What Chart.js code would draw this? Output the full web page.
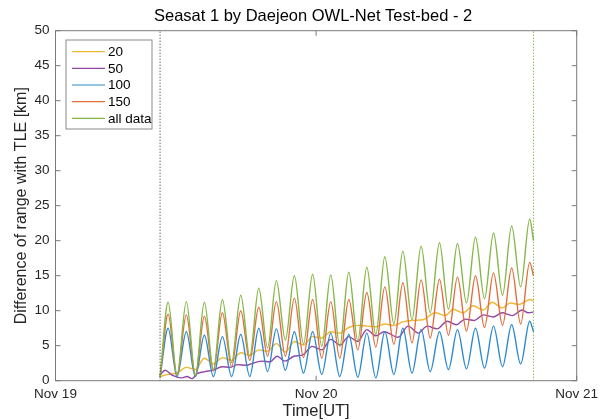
<!DOCTYPE html>
<html><head><meta charset="utf-8">
<script src="https://cdn.jsdelivr.net/npm/chart.js@4/dist/chart.umd.min.js"></script>
<style>html,body{margin:0;padding:0;background:#fff}#wrap{width:614px;height:420px}</style>
</head><body><div id="wrap"><canvas id="c" width="614" height="420"></canvas></div>
<script>
const titleText = 'Seasat 1 by Daejeon OWL-Net Test-bed - 2';
const xTitle = 'Time[UT]';
const yTitle = 'Difference of range with TLE [km]';
const xTickHours = [0, 24, 48];
const xTickLabels = ['Nov 19', 'Nov 20', 'Nov 21'];
const yTickValues = [0, 5, 10, 15, 20, 25, 30, 35, 40, 45, 50];
const seriesLabels = ['20', '50', '100', '150', 'all data'];

// hours since Nov 19 00:00 UT (start, then alternating peaks/troughs, end)
const orbitHours = [9.63, 10.37, 11.19, 12.05, 12.88, 13.71, 14.54, 15.37, 16.22, 17.06, 17.89, 18.72, 19.53, 20.34, 21.17, 22.00, 22.84, 23.68, 24.52, 25.35, 26.18, 27.01, 27.84, 28.67, 29.50, 30.33, 31.16, 31.99, 32.83, 33.67, 34.51, 35.36, 36.19, 37.02, 37.85, 38.68, 39.51, 40.34, 41.17, 42.01, 42.84, 43.67, 44.02];
const allData = [0.5, 11.2, 0.8, 11.3, 0.8, 11.2, 1.6, 11.6, 2.6, 12.2, 3.5, 13.2, 4.7, 14.3, 5.8, 15.0, 5.2, 15.2, 4.9, 15.1, 4.9, 15.5, 5.7, 16.2, 6.6, 17.7, 8.1, 18.5, 8.7, 19.2, 9.7, 19.7, 10.2, 19.6, 11.1, 20.5, 11.7, 21.1, 12.2, 22.1, 13.4, 23.1, 20.0];
const pass150 = [0.5, 9.5, 0.8, 9.4, 0.8, 9.2, 1.4, 9.7, 2.0, 10.0, 2.9, 10.5, 3.5, 11.3, 3.5, 11.8, 3.3, 11.6, 3.2, 11.3, 3.2, 11.6, 4.4, 12.6, 4.8, 13.4, 5.2, 14.0, 5.4, 14.4, 6.1, 14.5, 6.5, 14.8, 7.1, 15.0, 7.6, 15.4, 7.9, 16.1, 8.1, 16.9, 15.0];
const pass100 = [0.5, 7.5, 0.6, 7.0, 0.6, 6.5, 0.6, 6.3, 0.6, 6.6, 0.6, 7.5, 1.3, 7.4, 1.5, 7.0, 1.1, 7.0, 0.9, 6.8, 0.6, 6.6, 0.5, 6.8, 0.4, 7.0, 0.9, 7.5, 1.1, 7.3, 1.3, 7.0, 1.6, 7.3, 1.7, 7.5, 1.8, 7.8, 2.0, 8.0, 2.4, 8.5, 7.0];

const hours20 = [9.63, 10.37, 11.19, 12.05, 12.88, 13.71, 14.54, 15.37, 16.22, 17.06, 17.89, 18.72, 19.53, 20.34, 21.17, 22.00, 22.84, 23.68, 24.52, 25.35, 26.18, 27.01, 27.84, 28.67, 29.50, 30.33, 31.16, 31.99, 32.83, 33.86, 34.96, 35.89, 36.62, 37.54, 38.46, 39.39, 40.22, 41.14, 41.87, 42.70, 43.72, 44.02];
const pass20 = [0.6, 0.9, 1.1, 1.9, 1.6, 3.2, 2.4, 3.3, 2.9, 4.0, 3.6, 4.4, 4.2, 5.3, 4.1, 5.6, 5.1, 6.3, 6.1, 7.0, 6.8, 7.6, 7.9, 7.8, 7.7, 8.1, 7.9, 8.4, 8.6, 8.7, 9.7, 9.3, 10.2, 9.7, 10.7, 10.1, 11.2, 10.4, 11.1, 10.9, 11.6, 11.4];

const hours50 = [9.63, 10.09, 10.73, 11.65, 12.12, 12.58, 13.04, 13.77, 14.51, 15.34, 16.08, 16.81, 17.55, 18.20, 19.03, 19.76, 20.41, 21.14, 21.97, 22.80, 23.63, 24.53, 25.35, 26.21, 26.98, 27.84, 28.67, 29.50, 30.27, 31.56, 32.48, 33.40, 34.23, 35.15, 36.07, 36.90, 37.73, 38.56, 39.39, 40.31, 41.14, 42.06, 42.98, 43.53, 44.02];
const pass50 = [0.8, 1.5, 0.8, 0.4, 0.6, 0.3, 1.0, 1.3, 1.5, 2.0, 1.9, 2.3, 2.2, 2.5, 2.8, 2.7, 3.5, 2.8, 3.5, 3.7, 4.9, 4.4, 5.9, 5.1, 6.3, 5.6, 7.3, 6.4, 7.0, 6.2, 7.8, 6.8, 7.8, 7.4, 8.5, 8.0, 8.8, 8.6, 9.4, 9.1, 9.7, 9.3, 10.1, 9.7, 9.8];

const spanStartHour = 9.63;
const spanEndHour = 44.02;
const yRange = [0, 50];

const colors = ['#EFB834', '#9446A4', '#2E8AD0', '#E26E3E', '#86B848'];

const toXY = (xs, ys) => xs.map((v, i) => ({x: v, y: ys[i]}));
const lineSet = (label, xs, ys, color, order) => ({
  label, data: toXY(xs, ys), borderColor: color, backgroundColor: color,
  borderWidth: 1.4, pointRadius: 0, cubicInterpolationMode: 'monotone', fill: false, inLegend: true, order
});

const FONT = "'Liberation Sans', Arial, Helvetica, sans-serif";
Chart.defaults.font.family = FONT;

const frame = {
  id: 'frame',
  afterDatasetsDraw(chart) {
    const {ctx, chartArea: a, scales: {x, y}} = chart;
    ctx.save();
    ctx.strokeStyle = '#7a7a7a';
    ctx.lineWidth = 1;
    ctx.strokeRect(a.left, a.top, a.right - a.left, a.bottom - a.top);
    const L = 5;
    ctx.beginPath();
    y.ticks.forEach(t => {
      const py = y.getPixelForValue(t.value);
      ctx.moveTo(a.left, py); ctx.lineTo(a.left + L, py);
      ctx.moveTo(a.right, py); ctx.lineTo(a.right - L, py);
    });
    x.ticks.forEach(t => {
      const px = x.getPixelForValue(t.value);
      ctx.moveTo(px, a.bottom); ctx.lineTo(px, a.bottom - L);
      ctx.moveTo(px, a.top); ctx.lineTo(px, a.top + L);
    });
    ctx.stroke();

    // legend
    const lx = a.left + 10.5, ly = a.top + 9.3, lw = 86, lh = 89;
    ctx.fillStyle = '#fff';
    ctx.fillRect(lx, ly, lw, lh);
    ctx.strokeStyle = '#8a8a8a';
    ctx.strokeRect(lx, ly, lw, lh);
    ctx.font = '13.5px ' + FONT;
    ctx.textBaseline = 'middle';
    ctx.textAlign = 'left';
    const items = chart.data.datasets.filter(d => d.inLegend);
    items.forEach((d, i) => {
      const ry = ly + 11.7 + i * 16.65;
      ctx.strokeStyle = d.borderColor;
      ctx.lineWidth = 1.2;
      ctx.beginPath(); ctx.moveTo(lx + 6, ry); ctx.lineTo(lx + 39, ry); ctx.stroke();
      ctx.fillStyle = '#000';
      ctx.fillText(d.label, lx + 42, ry + 0.5);
    });

    // title
    ctx.font = '16.5px ' + FONT;
    ctx.textAlign = 'center';
    ctx.fillStyle = '#000';
    ctx.fillText(titleText, (a.left + a.right) / 2 - 3, a.top - 14);
    ctx.restore();
  }
};

new Chart(document.getElementById('c'), {
  type: 'line',
  data: {
    datasets: [
      lineSet(seriesLabels[0], hours20, pass20, colors[0], 5),
      lineSet(seriesLabels[1], hours50, pass50, colors[1], 4),
      lineSet(seriesLabels[2], orbitHours, pass100, colors[2], 3),
      lineSet(seriesLabels[3], orbitHours, pass150, colors[3], 2),
      lineSet(seriesLabels[4], orbitHours, allData, colors[4], 1),
      {label: 'start', data: [{x: spanStartHour, y: yRange[0]}, {x: spanStartHour, y: yRange[1]}], borderColor: '#222', borderWidth: 1, borderDash: [1, 2], pointRadius: 0, order: 0},
      {label: 'end', data: [{x: spanEndHour, y: yRange[0]}, {x: spanEndHour, y: yRange[1]}], borderColor: '#5a9a20', borderWidth: 1, borderDash: [1, 2], pointRadius: 0, order: 0}
    ]
  },
  options: {
    responsive: false,
    animation: false,
    parsing: true,
    layout: {padding: {top: 30.7, right: 37.3, left: 0, bottom: 0}},
    plugins: {legend: {display: false}, tooltip: {enabled: false}, title: {display: false}},
    scales: {
      x: {
        type: 'linear', min: 0, max: 48,
        afterBuildTicks: s => { s.ticks = xTickHours.map(v => ({value: v})); },
        afterFit: s => { s.height = 39.3; },
        grid: {display: false, drawTicks: false},
        border: {display: false},
        ticks: {
          padding: 5, color: '#262626', font: {size: 13.5}, maxRotation: 0, autoSkip: false,
          callback: v => xTickLabels[xTickHours.indexOf(v)] ?? ''
        },
        title: {display: true, text: xTitle, color: '#262626', font: {size: 16.5}, padding: {top: 0, bottom: -1}}
      },
      y: {
        type: 'linear', min: yRange[0], max: yRange[1],
        afterBuildTicks: s => { s.ticks = yTickValues.map(v => ({value: v})); },
        afterFit: s => { s.width = 55.5; },
        grid: {display: false, drawTicks: false},
        border: {display: false},
        ticks: {padding: 6, color: '#262626', font: {size: 13.5}},
        title: {display: true, text: yTitle, color: '#262626', font: {size: 16}, padding: {top: 12, bottom: 0}}
      }
    }
  },
  plugins: [frame]
});
</script></body></html>
